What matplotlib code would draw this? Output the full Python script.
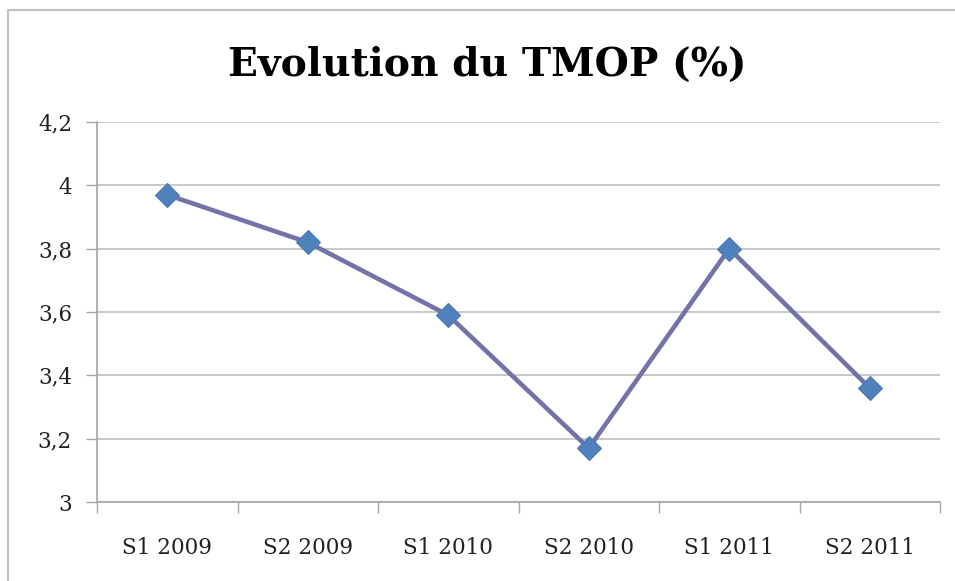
import matplotlib
matplotlib.use('Agg')
import matplotlib.pyplot as plt
from matplotlib.patches import Rectangle

periods = ['S1 2009', 'S2 2009', 'S1 2010', 'S2 2010', 'S1 2011', 'S2 2011']
tmop = [3.97, 3.82, 3.59, 3.17, 3.80, 3.36]
yticks = [3.0, 3.2, 3.4, 3.6, 3.8, 4.0, 4.2]
ytick_labels = ['3', '3,2', '3,4', '3,6', '3,8', '4', '4,2']

plt.rcParams['font.family'] = ['DejaVu Serif']
W, H = 955, 581
fig = plt.figure(figsize=(W/100, H/100), dpi=100)

# chart border (cropped at right/bottom in the original)
fig.patches.append(Rectangle((8/W, -0.1), 1.1, 1 - 10/H + 0.1, transform=fig.transFigure,
                             fill=False, edgecolor='#c0c0c0', linewidth=1.5))

ax = fig.add_axes([97/W, (H-502)/H, (940-97)/W, (502-122)/H])
x = list(range(len(periods)))
ax.plot(x, tmop, color='#7373a9', linewidth=3.3, marker='D', markersize=12,
        markerfacecolor='#4f81bd', markeredgecolor='#4a7ab3', markeredgewidth=0.8,
        zorder=3)

ax.set_ylim(3.0, 4.2)
ax.set_xlim(-0.5, len(periods) - 0.5)
ax.set_yticks(yticks)
ax.set_yticklabels(ytick_labels)
ax.set_xticks(x)
ax.set_xticklabels(periods)
ax.set_xticks([i - 0.5 for i in range(len(periods) + 1)], minor=True)
ax.tick_params(axis='x', which='major', length=0, pad=25, labelsize=15.5, colors='#222222')
ax.tick_params(axis='x', which='minor', length=8, width=1, color='#a6a6a6')
ax.tick_params(axis='y', length=8, width=1, color='#a6a6a6', pad=10, labelsize=15.5,
               labelcolor='#222222')

ax.grid(axis='y', color='#bfbfbf', linewidth=1.2)
ax.set_axisbelow(True)
for s in ['top', 'right']:
    ax.spines[s].set_visible(False)
for s in ['left', 'bottom']:
    ax.spines[s].set_color('#a6a6a6')
    ax.spines[s].set_linewidth(1.2)

fig.text(487/W, 1 - 65/H, 'Evolution du TMOP (%)', ha='center', va='center',
         fontsize=28.3, fontweight='bold', color='black')

fig.savefig('out.png', dpi=100, facecolor='white')
